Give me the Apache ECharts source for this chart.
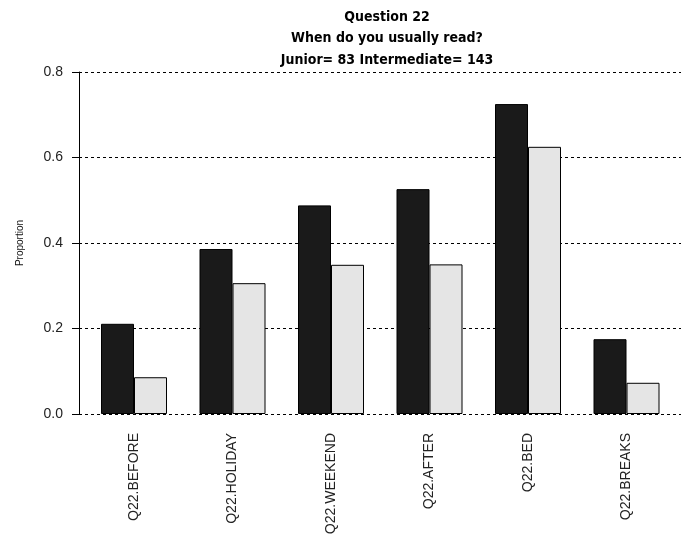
<!DOCTYPE html>
<html>
<head>
<meta charset="utf-8">
<script src="https://cdn.jsdelivr.net/npm/echarts@6/dist/echarts.min.js"></script>
<style>html,body{margin:0;padding:0;background:#fff}#c{width:690px;height:539px}</style>
</head>
<body>
<div id="c"></div>
<script>
const categories = ["Q22.BEFORE", "Q22.HOLIDAY", "Q22.WEEKEND", "Q22.AFTER", "Q22.BED", "Q22.BREAKS"];
const junior = [0.211, 0.386, 0.488, 0.526, 0.725, 0.175];
const intermediate = [0.086, 0.306, 0.349, 0.350, 0.625, 0.073];
const yTicks = [0, 0.2, 0.4, 0.6, 0.8];
const titleLines = ["Question 22", "When do you usually read?", "Junior= 83 Intermediate= 143"];

const chart = echarts.init(document.getElementById('c'), null, {renderer: 'canvas'});
const titleFont = {fontFamily: 'DejaVu Sans Condensed, Liberation Sans Narrow, sans-serif', fontWeight: 'bold', fontSize: 14, color: '#000'};
chart.setOption({
  animation: false,
  backgroundColor: '#fff',
  title: titleLines.map((t, i) => ({
    text: t, left: 382, top: 5 + i * 21.5, textAlign: 'center',
    textStyle: titleFont
  })),
  grid: [
    {left: 84.75, right: 14.25, top: 72, bottom: 125},
    {left: 79, right: 9, top: 72, bottom: 125}
  ],
  xAxis: [
    {type: 'category', gridIndex: 0, data: categories,
     axisLine: {show: false}, axisTick: {show: false},
     axisLabel: {rotate: 90, margin: 19, fontSize: 14, color: '#222', fontFamily: 'Liberation Sans, Arial, sans-serif'}},
    {type: 'value', gridIndex: 1, show: false, min: 0, max: 1}
  ],
  yAxis: [
    {type: 'value', gridIndex: 0, min: 0, max: 0.8, interval: 0.2, show: false},
    {type: 'value', gridIndex: 1, min: 0, max: 0.8, interval: 0.2,
     name: 'Proportion', nameLocation: 'middle', nameGap: 54, nameRotate: 90,
     nameTextStyle: {fontSize: 10, color: '#111', fontFamily: 'Liberation Sans, Arial, sans-serif'},
     axisLine: {show: true, lineStyle: {color: '#000', width: 1}},
     axisTick: {show: true, length: 7, lineStyle: {color: '#000'}},
     axisLabel: {margin: 16, fontSize: 14, color: '#222', fontFamily: 'Liberation Sans, Arial, sans-serif',
                 formatter: v => v.toFixed(1)},
     splitLine: {show: true, lineStyle: {color: '#000', width: 1, type: [3, 3]}}}
  ],
  series: [
    {type: 'bar', name: 'Junior', xAxisIndex: 0, yAxisIndex: 0, data: junior,
     barWidth: 33, barGap: '0%',
     itemStyle: {color: '#1a1a1a', borderColor: '#000', borderWidth: 1}},
    {type: 'bar', name: 'Intermediate', xAxisIndex: 0, yAxisIndex: 0, data: intermediate,
     barWidth: 33, barGap: '0%',
     itemStyle: {color: '#e5e5e5', borderColor: '#000', borderWidth: 1}}
  ]
});
</script>
</body>
</html>
